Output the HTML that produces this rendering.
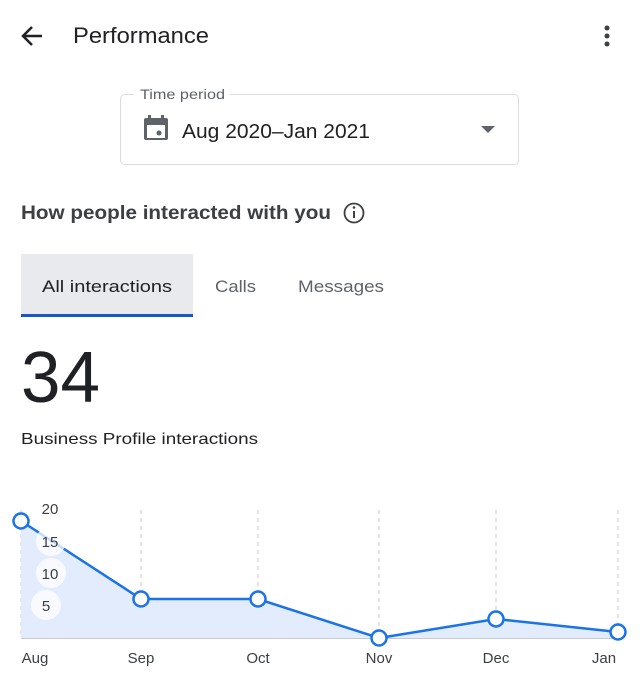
<!DOCTYPE html>
<html><head><meta charset="utf-8"><style>
body{margin:0;width:640px;height:686px;background:#fff;font-family:"Liberation Sans",Arial,sans-serif;position:relative;overflow:hidden;color:#202124}
.a{position:absolute}
</style></head><body>
<svg class="a" style="left:0;top:0" width="640" height="686">
<path d="M42 36H24M32 27l-9 9 9 9" stroke="#202124" stroke-width="2.5" fill="none"/>
<text x="73" y="43" font-size="22" fill="#202124" textLength="136" lengthAdjust="spacingAndGlyphs">Performance</text>
<circle cx="607" cy="28" r="2.5" fill="#3c4043"/><circle cx="607" cy="36" r="2.5" fill="#3c4043"/><circle cx="607" cy="44" r="2.5" fill="#3c4043"/>
<rect x="120.5" y="94.5" width="398" height="70" rx="4" fill="none" stroke="#dadce0"/>
<rect x="134" y="88" width="96" height="12" fill="#fff"/>
<text x="140" y="99" font-size="14" fill="#5f6368" textLength="85" lengthAdjust="spacingAndGlyphs">Time period</text>
<rect x="144" y="118" width="24" height="22" rx="2" fill="#5f6368"/>
<rect x="147" y="125" width="18" height="13" fill="#fff"/>
<rect x="148" y="115" width="3" height="5" fill="#5f6368"/><rect x="161" y="115" width="3" height="5" fill="#5f6368"/>
<circle cx="159" cy="133" r="2.5" fill="#5f6368"/>
<text x="182" y="138" font-size="20" fill="#202124" textLength="188" lengthAdjust="spacingAndGlyphs">Aug 2020–Jan 2021</text>
<path d="M481 126h14l-7 7z" fill="#5f6368"/>
<text x="21" y="219" font-size="19" font-weight="bold" fill="#3c4043" textLength="310" lengthAdjust="spacingAndGlyphs">How people interacted with you</text>
<circle cx="354" cy="213" r="9.5" fill="none" stroke="#3c4043" stroke-width="1.8"/>
<rect x="353" y="211" width="2" height="7" fill="#3c4043"/><circle cx="354" cy="207.5" r="1.3" fill="#3c4043"/>
<rect x="21" y="254" width="172" height="61" fill="#e8eaed"/>
<rect x="21" y="314" width="172" height="3" fill="#1a56c4"/>
<text x="42" y="292" font-size="17" fill="#202124" textLength="130" lengthAdjust="spacingAndGlyphs">All interactions</text>
<text x="215" y="292" font-size="17" fill="#5f6368" textLength="41" lengthAdjust="spacingAndGlyphs">Calls</text>
<text x="298" y="292" font-size="17" fill="#5f6368" textLength="86" lengthAdjust="spacingAndGlyphs">Messages</text>
<text x="21" y="402" font-size="72" fill="#202124" textLength="79" lengthAdjust="spacingAndGlyphs">34</text>
<text x="21" y="444" font-size="16" fill="#202124" textLength="237" lengthAdjust="spacingAndGlyphs">Business Profile interactions</text>
<g stroke="#c8cace" stroke-dasharray="4,4" stroke-width="1">
<line x1="21" y1="510" x2="21" y2="638"/><line x1="141" y1="510" x2="141" y2="638"/><line x1="258" y1="510" x2="258" y2="638"/><line x1="379" y1="510" x2="379" y2="638"/><line x1="496" y1="510" x2="496" y2="638"/><line x1="618" y1="510" x2="618" y2="638"/>
</g>
<polygon points="21,521 141,599 258,599 379,638 496,619 618,632 618,638 21,638" fill="#e3ecfd"/>
<line x1="21" y1="638.5" x2="620" y2="638.5" stroke="#c8cace"/>
<polyline points="21,521 141,599 258,599 379,638 496,619 618,632" fill="none" stroke="#1a73e8" stroke-width="2.5"/>
<g fill="#fff" fill-opacity="0.75">
<circle cx="51" cy="541" r="15"/><circle cx="51" cy="573" r="15"/><circle cx="46" cy="605" r="15"/>
</g>
<g font-size="15" fill="#3c4043" text-anchor="middle">
<text x="50" y="514">20</text><text x="50" y="547">15</text><text x="50" y="579">10</text><text x="46" y="611">5</text>
</g>
<g fill="#fff" stroke="#1a73e8" stroke-width="2.5">
<circle cx="21" cy="521" r="7.5"/><circle cx="141" cy="599" r="7.5"/><circle cx="258" cy="599" r="7.5"/><circle cx="379" cy="638" r="7.5"/><circle cx="496" cy="619" r="7.5"/><circle cx="618" cy="632" r="7.5"/>
</g>
<g font-size="15" fill="#3c4043" text-anchor="middle">
<text x="35" y="663">Aug</text><text x="141" y="663">Sep</text><text x="258" y="663">Oct</text><text x="379" y="663">Nov</text><text x="496" y="663">Dec</text><text x="604" y="663">Jan</text>
</g>
</svg>
</body></html>
